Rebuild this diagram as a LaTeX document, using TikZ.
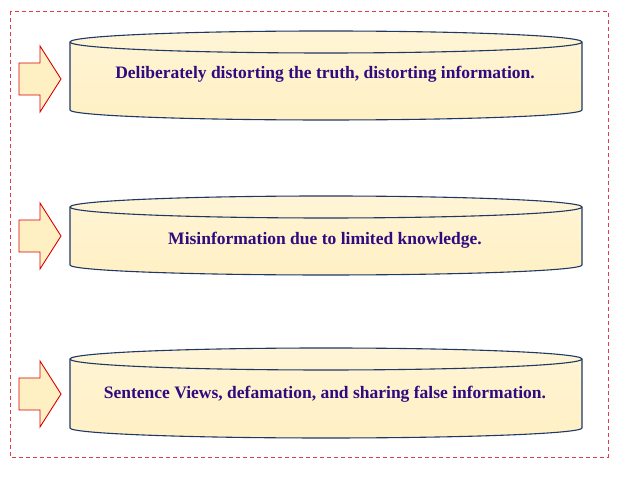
\documentclass[tikz,border=0pt]{standalone}
\usepackage{fontspec}
\setmainfont{Liberation Serif}
\usepackage{tikz}
\usetikzlibrary{positioning}
\definecolor{cream}{HTML}{FFF0C4}
\definecolor{rimblue}{HTML}{1F3864}
\definecolor{inkviolet}{HTML}{2E0C80}
\definecolor{framered}{HTML}{E23C4C}
\tikzset{
  barrel/.style={draw=rimblue, line width=1.1pt, top color=cream!70, bottom color=cream},
  rim/.style={draw=rimblue, line width=1.1pt},
  pointer/.style={draw=red!85!black, line width=0.9pt, fill=cream},
  caption/.style={text=inkviolet, font=\fontsize{17.5}{20}\selectfont\bfseries}
}
% block arrow with its tip at (61,#1)
\newcommand{\pointerat}[1]{%
  \draw[pointer] (19,#1+16) -- (40,#1+16) -- (40,#1+33) -- (61,#1)
    -- (40,#1-33) -- (40,#1-16) -- (19,#1-16) -- cycle;}
% barrel from top rim #1 down to side bottom #2
\newcommand{\barrelat}[2]{%
  \draw[barrel] (70,#1) -- (70,#2) arc[start angle=180, end angle=360, x radius=256, y radius=10]
    -- (582,#1) arc[start angle=0, end angle=180, x radius=256, y radius=11] -- cycle;
  \draw[rim] (70,#1) arc[start angle=180, end angle=360, x radius=256, y radius=11];}
\begin{document}
\begin{tikzpicture}[x=1pt, y=1pt]
\useasboundingbox (0,0) rectangle (638,478);
\draw[framered, dashed, dash pattern=on 4pt off 3pt, line width=0.8pt] (10,467) rectangle (608,21);

\barrelat{436}{368}
\barrelat{271}{213}
\barrelat{119}{50}

\pointerat{399}
\pointerat{242}
\pointerat{84}

\node[caption] (distort) at (325,404) {Deliberately distorting the truth, distorting information.};
\node[caption] (limited) at (325,238) {Misinformation due to limited knowledge.};
\node[caption] (slander) at (325,84) {Sentence Views, defamation, and sharing false information.};
\end{tikzpicture}
\end{document}
